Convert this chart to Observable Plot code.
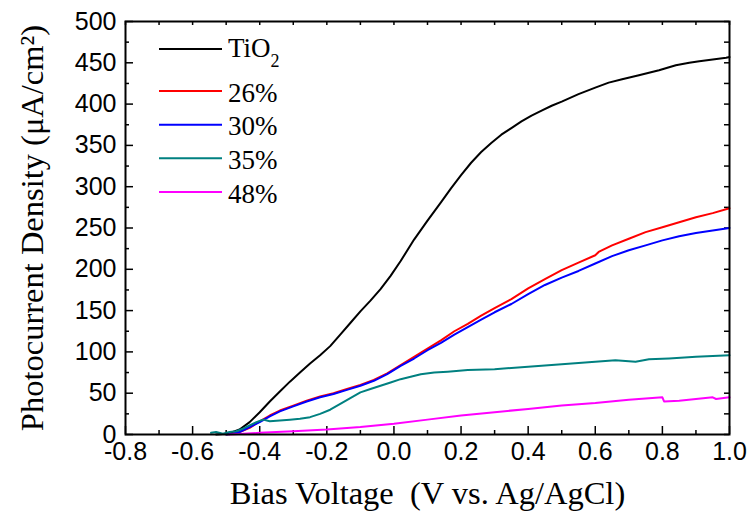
<!DOCTYPE html>
<html>
<head>
<meta charset="utf-8">
<script src="https://cdn.jsdelivr.net/npm/d3@7"></script>
<script src="https://cdn.jsdelivr.net/npm/@observablehq/plot@0.6"></script>
<style>
  html, body { margin: 0; padding: 0; background: #fff; }
  #wrap { position: relative; width: 748px; height: 516px; }
  #legend { position: absolute; left: 0; top: 0; }
</style>
</head>
<body>
<div id="wrap"></div>
<script>
// ---- data ----
const seriesNames = ["TiO2", "26%", "30%", "35%", "48%"];
const seriesColors = ["#000000", "#ff0000", "#0000ff", "#008080", "#ff00ff"];

const xTicks = [-0.8, -0.6, -0.4, -0.2, 0.0, 0.2, 0.4, 0.6, 0.8, 1.0];
const xMinorTicks = [-0.7, -0.5, -0.3, -0.1, 0.1, 0.3, 0.5, 0.7, 0.9];
const yTicks = [0, 50, 100, 150, 200, 250, 300, 350, 400, 450, 500];
const yMinorTicks = [25, 75, 125, 175, 225, 275, 325, 375, 425, 475];

const tio2 = [[-0.53,0],[-0.50,1],[-0.48,3],[-0.46,6],[-0.43,15],[-0.40,27],[-0.37,40],[-0.34,52],[-0.31,64],[-0.28,75],[-0.25,86],[-0.22,96],[-0.19,107],[-0.16,121],[-0.13,135],[-0.10,149],[-0.07,162],[-0.04,176],[-0.01,192],[0.02,210],[0.06,236],[0.10,259],[0.14,281],[0.17,298],[0.20,314],[0.23,329],[0.26,342],[0.29,353],[0.32,363],[0.35,371],[0.38,379],[0.41,386],[0.44,392],[0.47,398],[0.50,403],[0.55,412],[0.60,420],[0.64,426],[0.68,430],[0.73,435],[0.79,441],[0.84,447],[0.88,450],[0.91,452],[0.95,454],[0.99,456],[1.0,457]];
const s26 = [[-0.50,0],[-0.48,1],[-0.46,3],[-0.43,8],[-0.40,16],[-0.37,23],[-0.34,29],[-0.30,35],[-0.26,41],[-0.22,46],[-0.18,50],[-0.14,55],[-0.10,60],[-0.06,66],[-0.02,74],[0.02,84],[0.06,94],[0.10,104],[0.14,114],[0.18,125],[0.22,134],[0.26,144],[0.30,153],[0.35,164],[0.40,177],[0.45,188],[0.50,199],[0.55,208],[0.60,217],[0.61,221],[0.65,229],[0.70,237],[0.75,245],[0.80,251],[0.85,257],[0.90,263],[0.95,268],[1.0,274]];
const s30 = [[-0.50,0],[-0.48,1],[-0.46,3],[-0.43,9],[-0.40,15],[-0.37,22],[-0.34,28],[-0.30,34],[-0.26,40],[-0.22,45],[-0.18,49],[-0.14,54],[-0.10,59],[-0.06,65],[-0.02,73],[0.02,83],[0.06,92],[0.10,102],[0.14,111],[0.18,121],[0.22,130],[0.26,139],[0.30,148],[0.35,158],[0.40,170],[0.45,181],[0.50,190],[0.55,198],[0.60,207],[0.65,216],[0.70,223],[0.75,229],[0.80,235],[0.85,240],[0.90,244],[0.95,247],[1.0,250]];
const s35 = [[-0.545,2],[-0.53,3],[-0.51,1],[-0.49,3],[-0.47,4],[-0.45,7],[-0.43,11],[-0.41,15],[-0.39,18],[-0.37,16],[-0.34,17],[-0.31,18],[-0.28,19],[-0.25,21],[-0.22,25],[-0.19,30],[-0.16,37],[-0.13,44],[-0.10,51],[-0.07,55],[-0.04,59],[-0.01,63],[0.02,67],[0.05,70],[0.08,73],[0.12,75],[0.16,76],[0.22,78],[0.30,79],[0.40,82],[0.50,85],[0.60,88],[0.66,90],[0.69,89],[0.72,88],[0.76,91],[0.82,92],[0.90,94],[1.0,96]];
const s48 = [[-0.49,0],[-0.45,1],[-0.40,2],[-0.30,4],[-0.20,6],[-0.10,9],[0.00,13],[0.10,18],[0.20,23],[0.30,27],[0.40,31],[0.50,35],[0.60,38],[0.70,42],[0.80,45],[0.805,40],[0.85,41],[0.90,43],[0.95,45],[0.96,43],[1.0,45]];

const xTitle = "Bias Voltage\u00a0 (V vs. Ag/AgCl)";
const yTitle = "Photocurrent Density (\u03bcA/cm\u00b2)";

// ---- build table ----
const allSeries = [tio2, s26, s30, s35, s48];
const rows = allSeries.flatMap((arr, i) => arr.map(([v, j]) => ({v, j, series: seriesNames[i]})));

const W = 748, H = 516, mL = 125, mR = 19, mT = 21, mB = 82;
const innerH = H - mT - mB;
const innerW = W - mL - mR;
const serif = "'Liberation Serif', 'Times New Roman', serif";

const chart = Plot.plot({
  width: W, height: H,
  marginLeft: mL, marginRight: mR, marginTop: mT, marginBottom: mB,
  x: {domain: [-0.8, 1.0]},
  y: {domain: [0, 500]},
  color: {domain: seriesNames, range: seriesColors},
  style: {fontFamily: "'Liberation Sans', Arial, sans-serif", fontSize: "25px", color: "black", background: "white", overflow: "visible"},
  marks: [
    Plot.axisX({ticks: xTicks, tickSize: 0, tickPadding: 8, tickFormat: d => d.toFixed(1), label: null}),
    Plot.axisY({ticks: yTicks, tickSize: 0, tickPadding: 9, tickFormat: d => String(d), label: null}),
    // inward ticks: bottom / left (long major, short minor)
    Plot.ruleX(xTicks, {x: d => d, insetTop: innerH - 8, stroke: "black", strokeWidth: 1.5}),
    Plot.ruleX(xMinorTicks, {x: d => d, insetTop: innerH - 4, stroke: "black", strokeWidth: 1.5}),
    Plot.ruleY(yTicks, {y: d => d, insetRight: innerW - 8, stroke: "black", strokeWidth: 1.5}),
    Plot.ruleY(yMinorTicks, {y: d => d, insetRight: innerW - 4, stroke: "black", strokeWidth: 1.5}),
    // top / right (short)
    Plot.ruleX(xTicks.concat(xMinorTicks), {x: d => d, insetBottom: innerH - 4, stroke: "black", strokeWidth: 1.5}),
    Plot.ruleY(yTicks.concat(yMinorTicks), {y: d => d, insetLeft: innerW - 5, stroke: "black", strokeWidth: 1.5}),
    Plot.line(rows, {x: "v", y: "j", z: "series", stroke: "series", strokeWidth: 2}),
    Plot.frame({stroke: "black", strokeWidth: 2}),
    Plot.text([xTitle], {text: d => d, frameAnchor: "bottom", lineAnchor: "middle", textAnchor: "middle", dy: 59, fontFamily: serif, fontSize: 32.5, fill: "black"}),
    Plot.text([yTitle], {text: d => d, frameAnchor: "left", lineAnchor: "middle", textAnchor: "middle", dx: -93, rotate: -90, fontFamily: serif, fontSize: 32.5, fill: "black"})
  ]
});

const wrap = document.getElementById("wrap");
wrap.appendChild(chart);

// ---- legend overlay ----
const ns = "http://www.w3.org/2000/svg";
const lg = document.createElementNS(ns, "svg");
lg.setAttribute("id", "legend");
lg.setAttribute("width", W);
lg.setAttribute("height", H);
const rowY = [49, 91, 124.7, 158.3, 192];
seriesNames.forEach((name, i) => {
  const y = rowY[i];
  const ln = document.createElementNS(ns, "line");
  ln.setAttribute("x1", 159); ln.setAttribute("x2", 222);
  ln.setAttribute("y1", y); ln.setAttribute("y2", y);
  ln.setAttribute("stroke", seriesColors[i]); ln.setAttribute("stroke-width", 2);
  lg.appendChild(ln);
  const t = document.createElementNS(ns, "text");
  t.setAttribute("x", 228);
  t.setAttribute("font-family", serif);
  t.setAttribute("font-size", 27);
  t.setAttribute("fill", "black");
  if (name === "TiO2") {
    t.setAttribute("y", y + 8);
    t.appendChild(document.createTextNode("TiO"));
    const sub = document.createElementNS(ns, "tspan");
    sub.setAttribute("font-size", 18);
    sub.setAttribute("dy", 10);
    sub.textContent = "2";
    t.appendChild(sub);
  } else {
    t.setAttribute("y", y + 10.5);
    t.textContent = name;
  }
  lg.appendChild(t);
});
wrap.appendChild(lg);
</script>
</body>
</html>
